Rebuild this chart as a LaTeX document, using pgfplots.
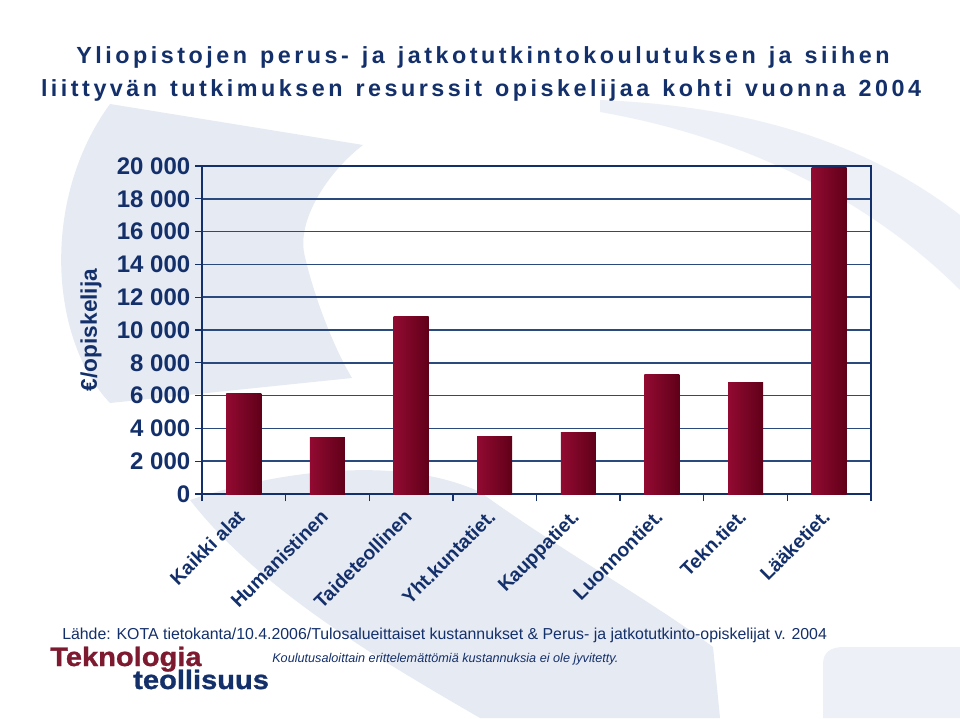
\documentclass[border=0pt]{standalone}
\usepackage{pgfplots}
\pgfplotsset{compat=1.18}
\usepackage{fontspec}
\setmainfont{Liberation Sans}
\newfontfamily\titlefont[LetterSpace=15,WordSpace=1.3]{Liberation Sans}
\newfontfamily\logofont[FakeStretch=1.09,FakeBold=1]{Liberation Sans}

\definecolor{navy}{HTML}{14306A}
\definecolor{gridc}{HTML}{2A4A7E}
\definecolor{barL}{HTML}{920A31}
\definecolor{barR}{HTML}{600019}
\definecolor{logored}{HTML}{7D1A30}
\definecolor{swoosh}{HTML}{E6EAF2}
\definecolor{swooshlight}{HTML}{EDF0F6}

\begin{document}
\begin{tikzpicture}
\path[use as bounding box, fill=white] (0,0) rectangle (720pt,538.5pt);

% background swooshes and texts, in pixel units from the top left
\begin{scope}[x=0.75pt, y=-0.75pt, yshift=538.5pt]
  \fill[swoosh] (110,104) -- (363,145) .. controls (330,170) and (295,220) .. (305,257)
    .. controls (315,300) and (335,350) .. (352,378) -- (110,403)
    .. controls (50,340) and (40,200) .. (110,104) -- cycle;
  \fill[swooshlight] (600,100) .. controls (720,105) and (850,130) .. (960,215) -- (960,290)
    .. controls (880,210) and (760,140) .. (600,112) -- cycle;
  \fill[swoosh] (190,500) .. controls (280,470) and (400,455) .. (480,492)
    .. controls (560,550) and (650,600) .. (713,647) -- (720,718) -- (480,718)
    .. controls (380,660) and (260,590) .. (190,500) -- cycle;
  \fill[swooshlight] (823,665) .. controls (823,652) and (830,647) .. (845,647) -- (960,647)
    -- (960,718) -- (823,718) -- cycle;

  \node[anchor=base, font=\titlefont\bfseries\fontsize{17.5}{20}\selectfont, text=navy]
    at (483,64) {Yliopistojen perus- ja jatkotutkintokoulutuksen ja siihen};
  \node[anchor=base, font=\titlefont\bfseries\fontsize{17.5}{20}\selectfont, text=navy]
    at (481,97) {liittyvän tutkimuksen resurssit opiskelijaa kohti vuonna 2004};

  \node[anchor=base west, inner sep=0pt, font=\fontsize{11.9}{14}\selectfont, text=navy]
    at (62,639) {Lähde: KOTA tietokanta/10.4.2006/Tulosalueittaiset kustannukset \& Perus- ja jatkotutkinto-opiskelijat v. 2004};
  \node[anchor=base west, inner sep=0pt, font=\itshape\fontsize{9.5}{11}\selectfont, text=navy]
    at (272,662) {Koulutusaloittain erittelemättömiä kustannuksia ei ole jyvitetty.};

  \node[anchor=base west, inner sep=0pt, font=\logofont\bfseries\fontsize{20}{22}\selectfont, text=logored]
    at (50,666) {Teknologia};
  \node[anchor=base west, inner sep=0pt, font=\logofont\bfseries\fontsize{20}{22}\selectfont, text=navy]
    at (133,689) {teollisuus};
\end{scope}

\begin{axis}[
    at={(151.5pt,168pt)}, anchor=south west,
    scale only axis, width=501.75pt, height=246pt,
    ybar, bar width=26.25pt, bar shift=0pt,
    xmin=-0.5, xmax=7.5, ymin=0, ymax=20000,
    xtick={0,...,7},
    xticklabels={Kaikki alat, Humanistinen, Taideteollinen, Yht.kuntatiet.,
                 Kauppatiet., Luonnontiet., Tekn.tiet., Lääketiet.},
    minor xtick={-0.5,0.5,...,7.5},
    ytick={0,2000,...,20000},
    scaled y ticks=false,
    /pgf/number format/.cd, 1000 sep={\ }, assume math mode=true, /pgfplots/.cd,
    xtick pos=bottom, ytick pos=left,
    tick align=outside,
    major tick length=5.25pt, minor tick length=5.25pt,
    major x tick style={draw=none},
    tick style={navy, line width=1pt},
    axis line style={navy, line width=1.1pt},
    ymajorgrids, grid style={gridc, line width=1.1pt},
    yticklabel style={font=\bfseries\fontsize{18}{20}\selectfont, text=navy},
    xticklabel style={font=\bfseries\fontsize{14.5}{16}\selectfont, text=navy,
                      xshift=-6pt, yshift=-4pt, rotate=45, anchor=north east, inner sep=1pt},
    ylabel={€/opiskelija},
    ylabel style={at={(axis description cs:-0.166,0.5)}, anchor=center,
                  font=\bfseries\fontsize{17}{19}\selectfont, text=navy},
    every axis plot/.append style={draw=none, left color=barL, right color=barR},
  ]
  \addplot coordinates {(0,6150)};
  \addplot coordinates {(1,3430)};
  \addplot coordinates {(2,10840)};
  \addplot coordinates {(3,3490)};
  \addplot coordinates {(4,3780)};
  \addplot coordinates {(5,7260)};
  \addplot coordinates {(6,6770)};
  \addplot coordinates {(7,19880)};
\end{axis}
\end{tikzpicture}
\end{document}
